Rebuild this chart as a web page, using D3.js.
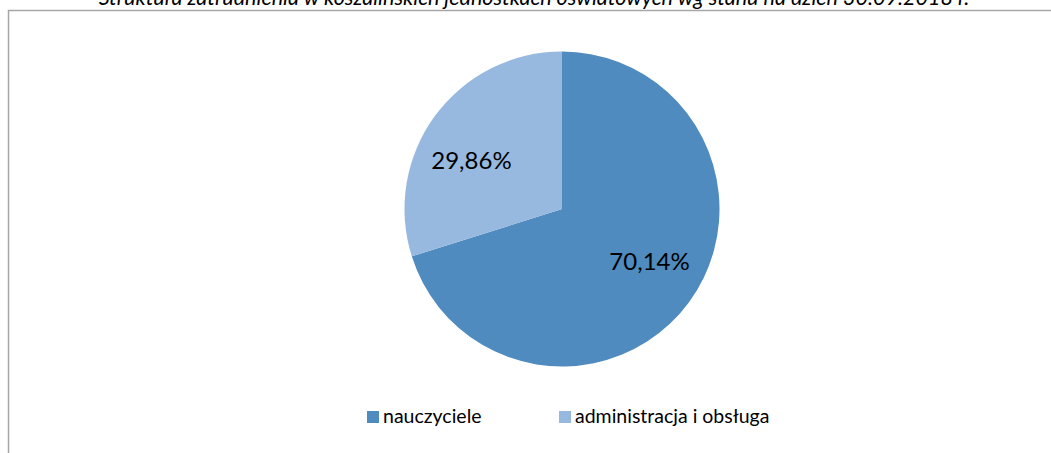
<!DOCTYPE html>
<html>
<head>
<meta charset="utf-8">
<script src="https://cdn.jsdelivr.net/npm/d3@7"></script>
<style>
  html, body { margin: 0; padding: 0; background: #fff; }
  svg { display: block; }
</style>
</head>
<body>
<div id="chart"></div>
<script>
// Chart data
var title = "Struktura zatrudnienia w koszalińskich jednostkach oświatowych wg stanu na dzień 30.09.2018 r.";
var categories = ["nauczyciele", "administracja i obsługa"];
var shares = [70.14, 29.86];
var labels = ["70,14%", "29,86%"];
var colors = ["#4F8BBE", "#98B9DF"];

var width = 1051, height = 453;
var font = "Lato, 'Open Sans', sans-serif";

var svg = d3.select("#chart").append("svg")
    .attr("width", width)
    .attr("height", height);

// Chart area frame (only top and left edges are visible in the crop)
svg.append("path")
    .attr("d", "M8.5," + height + "V10.5H" + width)
    .style("fill", "none")
    .style("stroke", "#a6a6a6")
    .style("stroke-width", "1.5px");

// Title, cut off at the top like in the original
svg.append("text")
    .attr("x", 534)
    .attr("y", 5)
    .attr("text-anchor", "middle")
    .style("font-family", font)
    .style("font-style", "italic")
    .style("font-size", "21.5px")
    .style("fill", "#000")
    .text(title);

// Pie
var cx = 562, cy = 209, r = 157.5;
var pie = d3.pie().sort(null).value(d => d)(shares);
var arc = d3.arc().innerRadius(0).outerRadius(r);
var labelArc = d3.arc().innerRadius(r * 0.65).outerRadius(r * 0.65);
var labelNudge = [[5, -8], [-8, 12]]; // excel doesn't put labels exactly on centroid

var pieG = svg.append("g").attr("transform", "translate(" + cx + "," + cy + ")");

pieG.selectAll("path.slice")
  .data(pie)
  .enter().append("path")
    .attr("class", "slice")
    .attr("d", arc)
    .style("fill", (d, i) => colors[i]);

pieG.selectAll("text.lbl")
  .data(pie)
  .enter().append("text")
    .attr("class", "lbl")
    .attr("transform", (d, i) => {
      var c = labelArc.centroid(d);
      return "translate(" + (c[0] + labelNudge[i][0]) + "," + (c[1] + labelNudge[i][1]) + ")";
    })
    .attr("text-anchor", "middle")
    .attr("dy", "0.35em")
    .style("font-family", font)
    .style("font-size", "24px")
    .style("fill", "#000")
    .text((d, i) => labels[i]);

// Legend
var legendX = [367, 559];
var legend = svg.append("g");
var items = legend.selectAll("g")
  .data(categories)
  .enter().append("g")
    .attr("transform", (d, i) => "translate(" + legendX[i] + ",411)");

items.append("rect")
    .attr("width", 12)
    .attr("height", 12)
    .style("fill", (d, i) => colors[i]);

items.append("text")
    .attr("x", 16)
    .attr("y", 11.5)
    .style("font-family", font)
    .style("font-size", "19.5px")
    .style("fill", "#000")
    .text(d => d);
</script>
</body>
</html>
